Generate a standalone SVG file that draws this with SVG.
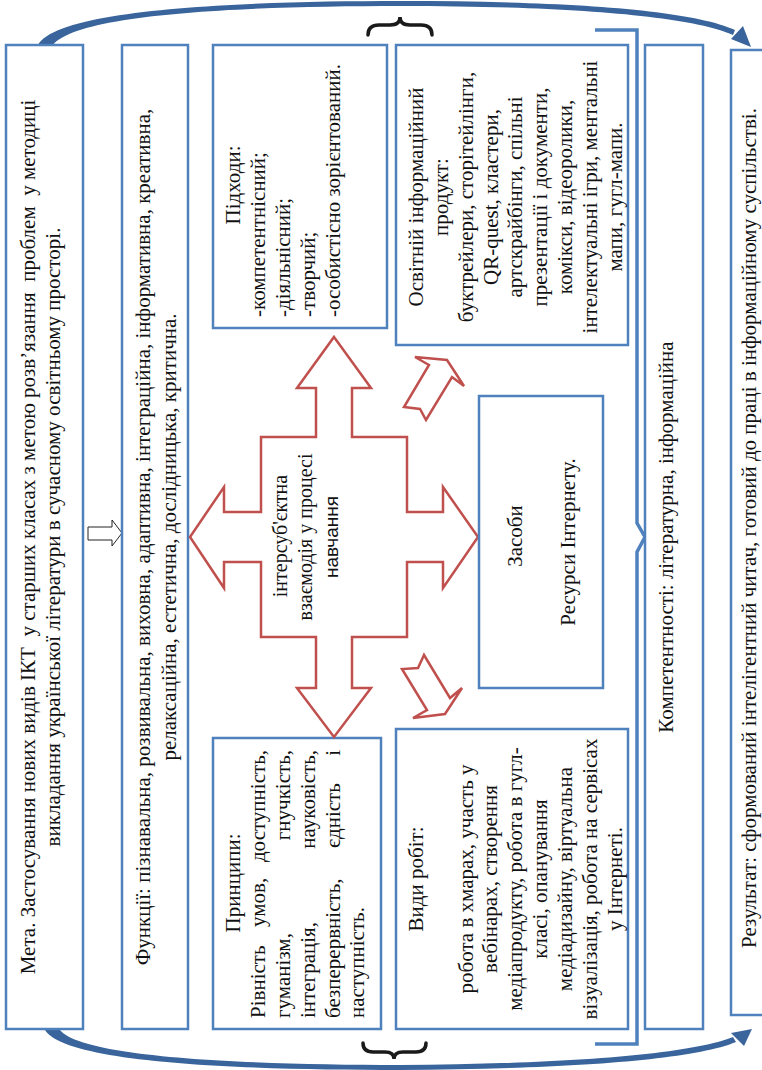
<svg xmlns="http://www.w3.org/2000/svg" width="762" height="1070" viewBox="0 0 762 1070">
<defs>
<style>
.box{fill:#fff;stroke:#4f81bd;stroke-width:2.5}
.red{fill:#fff;stroke:#c0504d;stroke-width:2.5;stroke-linejoin:miter}
.t{font-family:"Liberation Serif","Times New Roman",serif;font-size:21px;fill:#111}
.s{font-family:"Liberation Sans",Arial,sans-serif;font-size:19px;fill:#111}
.m{text-anchor:middle}
.e{text-anchor:end}
.curve{fill:#3a659c}
.brace{fill:none;stroke:#1a1a1a;stroke-width:3.5;stroke-linecap:round}
</style>
</defs>

<g id="connectors">
  <path class="curve" d="M38,45 C58,8 250,1 400,1 C560,1 690,9 735,30 L733,35 C688,15 560,6 400,6 C252,6 78,13 53,45 Z"/>
  <polygon class="curve" points="751,47 731,39 743,26"/>
  <path class="curve" d="M45,1030 C66,1064 250,1070 400,1070 C560,1069 690,1061 736,1042 L733,1037 C688,1055 560,1064 400,1065 C252,1065 82,1058 60,1030 Z"/>
  <polygon class="curve" points="752,1029 744,1046 731,1033"/>
  <polygon points="88,527 112,527 112,520 122,533 112,546 112,540 88,540" fill="#fff" stroke="#222" stroke-width="1"/>
  <path d="M595,30 H637 V523 L645,537 L637,552 V1044 H595" fill="none" stroke="#4f81bd" stroke-width="3.5"/>
  <path class="brace" d="M368,35 Q368,25 379,25 L390,25 Q400,25 400,17 Q400,25 410,25 L421,25 Q432,25 432,35"/>
  <path class="brace" d="M363,1043 Q363,1052 373,1052 L385,1052 Q394,1052 394,1059 Q394,1052 403,1052 L416,1052 Q426,1052 426,1043"/>
  <polygon class="red" points="429,365 415,357 447,360 464,386 452,377 426,420 420,409 404,407"/>
  <polygon class="red" points="424,655 418,668 402,669 427,710 413,718 445,714 462,688 450,698"/>
</g>

<g id="meta">
  <rect class="box" x="6" y="45" width="77" height="984"/>
  <text class="t m" xml:space="preserve" transform="translate(35,537) rotate(-90)">Мета. Застосування нових видів ІКТ  у старших класах з метою розв’язання  проблем  у методиці</text>
  <text class="t m" transform="translate(60,537) rotate(-90)">викладання української літератури в сучасному освітньому просторі.</text>
</g>

<g id="funktsii">
  <rect class="box" x="122" y="45" width="66" height="984"/>
  <text class="t m" transform="translate(150,537) rotate(-90)">Функції: пізнавальна, розвивальна, виховна, адаптивна, інтеграційна, інформативна, креативна,</text>
  <text class="t m" transform="translate(176,537) rotate(-90)">релаксаційна, естетична, дослідницька, критична.</text>
</g>

<g id="pidkhody">
  <rect class="box" x="213" y="45" width="174" height="283"/>
  <text class="t m" transform="translate(240,185) rotate(-90)">Підходи:</text>
  <text class="t" transform="translate(265,317) rotate(-90)">-компетентнісний;</text>
  <text class="t" transform="translate(290,317) rotate(-90)">-діяльнісний;</text>
  <text class="t" transform="translate(315,317) rotate(-90)">-творчий;</text>
  <text class="t" transform="translate(340,317) rotate(-90)">-особистісно зорієнтований.</text>
</g>

<g id="pryntsypy">
  <rect class="box" x="213" y="738" width="168" height="291"/>
  <text class="t m" transform="translate(240,883) rotate(-90)">Принципи:</text>
  <text class="t" transform="translate(265,1018) rotate(-90)">Рівність</text>
  <text class="t" transform="translate(265,927) rotate(-90)">умов,</text>
  <text class="t e" transform="translate(265,750) rotate(-90)">доступність,</text>
  <text class="t" transform="translate(290,1018) rotate(-90)">гуманізм,</text>
  <text class="t e" transform="translate(290,750) rotate(-90)">гнучкість,</text>
  <text class="t" transform="translate(315,1018) rotate(-90)">інтеграція,</text>
  <text class="t e" transform="translate(315,750) rotate(-90)">науковість,</text>
  <text class="t" transform="translate(340,1018) rotate(-90)">безперервність,</text>
  <text class="t" transform="translate(340,848) rotate(-90)">єдність</text>
  <text class="t e" transform="translate(340,750) rotate(-90)">і</text>
  <text class="t" transform="translate(364,1018) rotate(-90)">наступність.</text>
</g>

<g id="vzaiemodiia">
  <polygon class="red" points="334,337 371,388 352,388 352,437 407,437 407,512 443,512 443,487 478,537 443,588 443,562 407,562 407,637 352,637 352,688 371,688 334,737 297,688 316,688 316,637 261,637 261,562 224,562 224,588 190,537 224,487 224,512 261,512 261,437 316,437 316,388 297,388"/>
  <text class="t m" style="font-size:20px" transform="translate(287,536) rotate(-90)">інтерсуб'єктна</text>
  <text class="t m" style="font-size:20px" transform="translate(312,537) rotate(-90)">взаємодія у процесі</text>
  <text class="s m" transform="translate(338,537) rotate(-90)">навчання</text>
</g>

<g id="produkt">
  <rect class="box" x="396" y="45" width="232" height="300"/>
  <text class="t m" transform="translate(423,197) rotate(-90)">Освітній інформаційний</text>
  <text class="t m" transform="translate(448,197) rotate(-90)">продукт:</text>
  <text class="t m" transform="translate(473,197) rotate(-90)">буктрейлери, сторітейлінги,</text>
  <text class="t m" transform="translate(498,197) rotate(-90)">QR-quest, кластери,</text>
  <text class="t m" transform="translate(522,197) rotate(-90)">артскрайбінги, спільні</text>
  <text class="t m" transform="translate(547,197) rotate(-90)">презентації і документи,</text>
  <text class="t m" transform="translate(572,197) rotate(-90)">комікси, відеоролики,</text>
  <text class="t m" transform="translate(597,197) rotate(-90)">інтелектуальні ігри, ментальні</text>
  <text class="t m" transform="translate(622,197) rotate(-90)">мапи, гугл-мапи.</text>
</g>

<g id="zasoby">
  <rect class="box" x="479" y="396" width="124" height="292"/>
  <text class="t m" transform="translate(522,536) rotate(-90)">Засоби</text>
  <text class="t m" transform="translate(575,542) rotate(-90)">Ресурси Інтернету.</text>
</g>

<g id="vydy-robit">
  <rect class="box" x="396" y="729" width="232" height="300"/>
  <text class="t m" transform="translate(423,879) rotate(-90)">Види робіт:</text>
  <text class="t m" transform="translate(473,879) rotate(-90)">робота в хмарах, участь у</text>
  <text class="t m" transform="translate(497,879) rotate(-90)">вебінарах, створення</text>
  <text class="t m" transform="translate(522,879) rotate(-90)">медіапродукту, робота в гугл-</text>
  <text class="t m" transform="translate(547,879) rotate(-90)">класі, опанування</text>
  <text class="t m" transform="translate(572,879) rotate(-90)">медіадизайну, віртуальна</text>
  <text class="t m" transform="translate(597,879) rotate(-90)">візуалізація, робота на сервісах</text>
  <text class="t m" transform="translate(622,879) rotate(-90)">у Інтернеті.</text>
</g>

<g id="kompetentnosti">
  <rect class="box" x="645" y="45" width="58" height="984"/>
  <text class="t m" transform="translate(673,537) rotate(-90)">Компетентності: літературна, інформаційна</text>
</g>

<g id="rezultat">
  <rect class="box" x="731" y="50" width="40" height="965"/>
  <text class="t m" transform="translate(756,528) rotate(-90)">Результат: сформований інтелігентний читач, готовий до праці в інформаційному суспільстві.</text>
</g>
</svg>
